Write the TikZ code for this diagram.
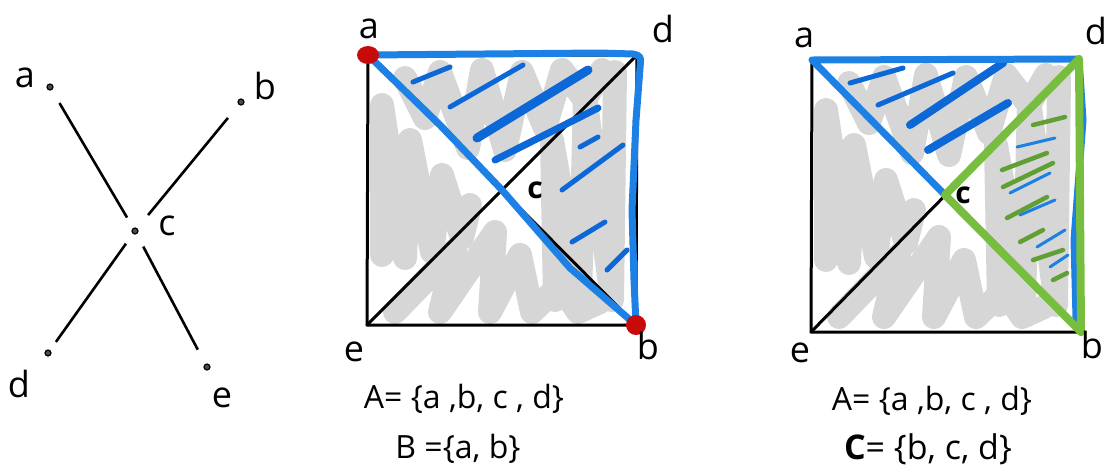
\documentclass[tikz,border=0pt]{standalone}
\usepackage{fontspec}
\setmainfont{Open Sans}
\usetikzlibrary{shapes.geometric}
\definecolor{scrib}{RGB}{214,214,214}
\definecolor{myblue}{RGB}{28,128,228}
\definecolor{hblue}{RGB}{12,104,214}
\definecolor{mygreen}{RGB}{120,190,62}
\definecolor{hgreen}{RGB}{96,160,50}
\definecolor{myred}{RGB}{200,10,10}
\begin{document}
\begin{tikzpicture}[x=1pt,y=-1pt,
  blk/.style={line width=3pt, line cap=round, line join=round},
  gry/.style={draw=scrib, line width=24pt, line cap=round, line join=round},
  blu/.style={draw=myblue, line width=7pt, line cap=round, line join=round},
  hatchb/.style={draw=hblue, line width=5pt, line cap=round},
  thinb/.style={draw=myblue, line width=3pt, line cap=round},
  hatchg/.style={draw=hgreen, line width=4.5pt, line cap=round},
  grn/.style={draw=mygreen, line width=8pt, line cap=round, line join=round},
  dot/.style={circle, draw, fill=black!70, line width=1.2pt, inner sep=0pt, minimum size=6pt},
  edge/.style={line width=2.6pt},
  lbl/.style={font=\fontsize{36}{38}\selectfont, inner sep=0pt},
  setl/.style={font=\fontsize{32}{36}\selectfont, inner sep=0pt},
  reddot/.style={ellipse, fill=myred, inner sep=0pt, minimum width=22pt, minimum height=18pt}]
\useasboundingbox (0,0) rectangle (1107,475);

% ---------- left graph ----------
\node[dot] (la) at (50,87) {};
\node[dot] (lb) at (241,102) {};
\node[dot] (lc) at (135,231) {};
\node[dot] (ld) at (48,353) {};
\node[dot] (le) at (207,367) {};
\draw[edge, shorten <=15pt, shorten >=12pt] (la) -- (lc);
\draw[edge, shorten <=17pt, shorten >=17pt] (lb) -- (lc);
\draw[edge, shorten <=10pt, shorten >=12pt] (ld) -- (lc);
\draw[edge, shorten <=16pt, shorten >=14pt] (le) -- (lc);
\node[lbl] (tla) at (25,78) {a};
\node[lbl] (tlb) at (265,86) {b};
\node[lbl] (tlc) at (167,226) {c};
\node[lbl] (tld) at (19,384) {d};
\node[lbl] (tle) at (222,398) {e};

% ---------- gray scribbles ----------
\foreach \sx/\sy in {0/0, 444/5} {
\begin{scope}[shift={(\sx,\sy)}]
  \draw[gry] (382,255) -- (382,105) -- (405,258) -- (410,140) -- (432,252) -- (442,175) -- (462,238) -- (470,205);
  \draw[gry] (395,312) -- (455,250) -- (440,312) -- (495,232) -- (490,312) -- (520,255) -- (532,312) -- (560,285) -- (578,312) -- (600,302);
  \draw[gry] (555,300) -- (552,140) -- (580,300) -- (585,95) -- (612,300) -- (615,72);
  \draw[gry] (405,78) -- (425,118) -- (440,72) -- (468,148) -- (482,70) -- (505,150) -- (522,72) -- (545,128) -- (562,70) -- (585,100) -- (602,70);
\end{scope}
}

% ---------- middle square ----------
\coordinate (ma) at (368,55);
\coordinate (md) at (637,55);
\coordinate (mb) at (636,325);
\coordinate (me) at (367,325);
\coordinate (mc) at (502,190);
\draw[blk] (ma) -- (md) -- (mb) -- (me) -- cycle;
\draw[blk] (ma) -- (mb);
\draw[blk] (me) -- (md);

\draw[hatchb] (413,82) -- (450,67);
\draw[hatchb] (450,107) -- (523,65);
\draw[hatchb, line width=9pt] (477,138) -- (588,70);
\draw[hatchb, line width=7pt] (495,160) -- (598,108);
\draw[hatchb] (580,147) -- (598,137);
\draw[hatchb] (562,190) -- (623,145);
\draw[hatchb] (572,242) -- (605,222);
\draw[hatchb] (607,270) -- (627,250);

\draw[blu] (ma) -- (600,53) -- (633,54) .. controls (641,56) .. (640,68) -- (636,120) -- (632,210) -- (634,280) -- (mb)
  -- (570,268) -- (mc) -- (440,125) -- cycle;
\node[reddot] (ra1) at (ma) {};
\node[reddot, minimum width=20pt, minimum height=20pt] (rb1) at (mb) {};

\node[lbl] (tma) at (369,29) {a};
\node[lbl] (tmd) at (663,29) {d};
\node[lbl] (tme) at (354,352) {e};
\node[lbl] (tmb) at (648,346) {b};
\node[lbl, font=\bfseries\fontsize{30}{32}\selectfont] (tmc) at (535,190) {c};
\node[setl] (s1) at (464,399) {A= \{a ,b, c , d\}};
\node[setl] (s2) at (458,449) {B =\{a, b\}};

% ---------- right square ----------
\coordinate (ra) at (812,60);
\coordinate (rd) at (1079,59);
\coordinate (rb) at (1081,332);
\coordinate (re) at (811,332);
\coordinate (rc) at (945,195);
\draw[blk] (ra) -- (rd) -- (rb) -- (re) -- cycle;
\draw[blk] (ra) -- (rb);
\draw[blk] (re) -- (rd);

\draw[hatchb] (850,83) -- (903,68);
\draw[hatchb] (878,105) -- (953,73);
\draw[hatchb, line width=8pt] (910,125) -- (1003,63);
\draw[hatchb, line width=8pt] (928,150) -- (1008,103);
\draw[thinb] (1017,147) -- (1055,138);
\draw[thinb] (1010,193) -- (1050,173);
\draw[thinb] (1020,215) -- (1055,200);
\draw[thinb] (1037,247) -- (1065,230);
\draw[thinb] (1050,267) -- (1068,255);

\draw[blu] (ra) -- (rd) -- (1083,120) -- (1074,240) -- (1076,318) -- (rb) -- (rc) -- cycle;

\draw[hatchg] (1033,125) -- (1065,117);
\draw[hatchg] (1002,170) -- (1047,153);
\draw[hatchg] (1003,187) -- (1053,163);
\draw[hatchg] (1007,218) -- (1047,197);
\draw[hatchg] (1020,242) -- (1043,230);
\draw[hatchg] (1033,260) -- (1063,250);
\draw[hatchg] (1053,280) -- (1067,273);

\draw[grn] (rc) -- (rd) -- (1080,200) -- (rb) -- cycle;

\node[lbl] (tra) at (804,38) {a};
\node[lbl] (trd) at (1096,31) {d};
\node[lbl] (tre) at (800,353) {e};
\node[lbl] (trb) at (1092,345) {b};
\node[lbl, font=\bfseries\fontsize{30}{32}\selectfont] (trc) at (963,195) {c};
\node[setl] (s3) at (932,401) {A= \{a ,b, c , d\}};
\node[setl, font=\fontsize{34}{38}\selectfont] (s4) at (928,449) {\textbf{C}= \{b, c, d\}};
\end{tikzpicture}
\end{document}
